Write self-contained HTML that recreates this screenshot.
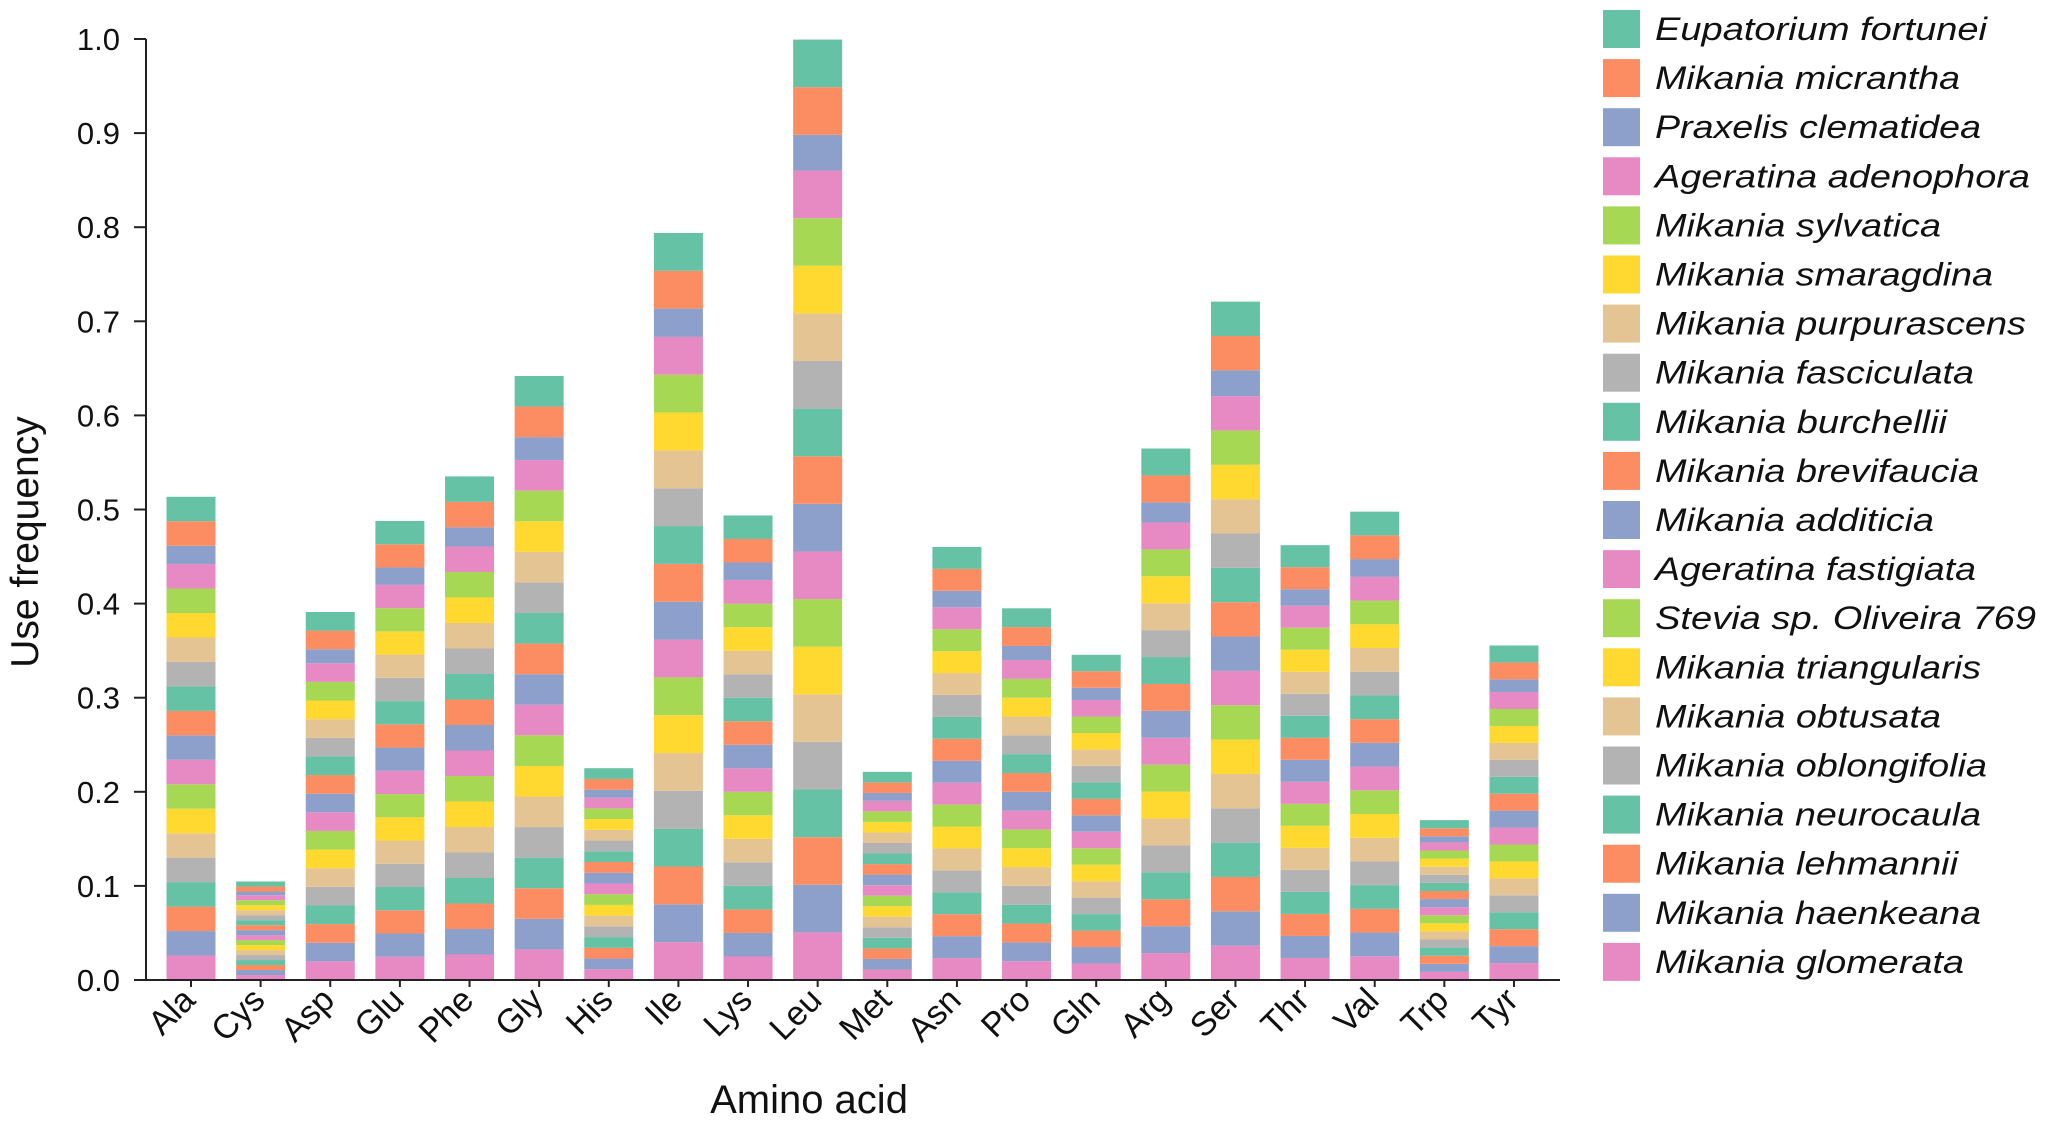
<!DOCTYPE html>
<html><head><meta charset="utf-8"><style>
html,body{margin:0;padding:0;background:#fff;}
svg{display:block;font-family:"Liberation Sans",Arial,sans-serif;}
</style></head><body>
<svg id="chart" width="2047" height="1122" viewBox="0 0 2047 1122" xmlns="http://www.w3.org/2000/svg">
<g id="bars"></g>
<g id="axes"></g>
<g id="legend"></g>
</svg>
<script>
const categories = ["Ala","Cys","Asp","Glu","Phe","Gly","His","Ile","Lys","Leu","Met","Asn","Pro","Gln","Arg","Ser","Thr","Val","Trp","Tyr"];
const yTicks = [0.0,0.1,0.2,0.3,0.4,0.5,0.6,0.7,0.8,0.9,1.0];
const seriesNames = ["Eupatorium fortunei","Mikania micrantha","Praxelis clematidea","Ageratina adenophora","Mikania sylvatica","Mikania smaragdina","Mikania purpurascens","Mikania fasciculata","Mikania burchellii","Mikania brevifaucia","Mikania additicia","Ageratina fastigiata","Stevia sp. Oliveira 769","Mikania triangularis","Mikania obtusata","Mikania oblongifolia","Mikania neurocaula","Mikania lehmannii","Mikania haenkeana","Mikania glomerata"];
const seriesColors = ["#66c2a5","#fc8d62","#8da0cb","#e78ac3","#a6d854","#ffd92f","#e5c494","#b3b3b3","#66c2a5","#fc8d62","#8da0cb","#e78ac3","#a6d854","#ffd92f","#e5c494","#b3b3b3","#66c2a5","#fc8d62","#8da0cb","#e78ac3"];
const typical = [0.026,0.0053,0.0198,0.0247,0.0271,0.0325,0.0114,0.0402,0.025,0.0506,0.0112,0.0233,0.02,0.0175,0.0286,0.0365,0.0234,0.0252,0.0086,0.018];
const praxelis = [0.0195,0.004,0.0149,0.0185,0.0203,0.0244,0.0085,0.0301,0.0187,0.038,0.0084,0.0175,0.015,0.0131,0.0214,0.0274,0.0175,0.0189,0.0065,0.0135];
const values = [typical,typical,praxelis,typical,typical,typical,typical,typical,typical,typical,typical,typical,typical,typical,typical,typical,typical,typical,typical,typical];

const NS="http://www.w3.org/2000/svg";
const X0=191, STEP=69.63, BW=49, Y0=980, Y1=39;
function xPos(i){return X0+i*STEP;}
function yPos(v){return Y0-(Y0-Y1)*v;}
function mk(tag,attrs,parent){const e=document.createElementNS(NS,tag);for(const k in attrs)e.setAttribute(k,attrs[k]);parent.appendChild(e);return e;}
const bars=document.getElementById('bars'), axes=document.getElementById('axes'), legend=document.getElementById('legend');

categories.forEach((c,i)=>{
  let acc=0;
  for(let s=values.length-1;s>=0;s--){
    const v=values[s][i];
    const r=mk('rect',{x:xPos(i)-BW/2,y:yPos(acc+v),width:BW,height:yPos(acc)-yPos(acc+v),fill:seriesColors[s]},bars);
    
    
    acc+=v;
  }
});

let l=mk('line',{x1:146,y1:Y1,x2:146,y2:Y0,stroke:'#222','stroke-width':2},axes);


l=mk('line',{x1:134,y1:Y0,x2:1560,y2:Y0,stroke:'#222','stroke-width':2},axes);



yTicks.forEach(t=>{
  const tk=mk('line',{x1:134,y1:yPos(t),x2:146,y2:yPos(t),stroke:'#222','stroke-width':2},axes);
  
  
  const tx=mk('text',{x:120,y:yPos(t)+11,'text-anchor':'end','font-size':31,fill:'#111'},axes);
  tx.textContent=t.toFixed(1);
  
  
});

categories.forEach((c,i)=>{
  const x=xPos(i);
  const tk=mk('line',{x1:x,y1:Y0,x2:x,y2:Y0+7,stroke:'#222','stroke-width':2},axes);
  
  
  const tx=mk('text',{x:x+6,y:Y0+22,'text-anchor':'end','font-size':34,fill:'#111',transform:`rotate(-45 ${x+6} ${Y0+22})`},axes);
  tx.textContent=c;
  
  
});

let t=mk('text',{x:809,y:1113,'text-anchor':'middle','font-size':40,fill:'#111'},axes);
t.textContent='Amino acid';


t=mk('text',{x:38,y:542,'text-anchor':'middle','font-size':39,fill:'#111',transform:'rotate(-90 38 542)'},axes);
t.textContent='Use frequency';



const legendWidths=[332,305,326,375,286,338,371,319,292,324,279,321,381,326,286,332,326,303,326,309];
seriesNames.forEach((n,s)=>{
  const cy=29+s*49.1;
  const g=mk('g',{},legend);
  
  
  const r=mk('rect',{x:1603,y:cy-19,width:37,height:38,fill:seriesColors[s]},g);
  
  
  const tx=mk('text',{x:1655,y:cy+11,'font-size':32,'font-style':'italic',fill:'#111',textLength:legendWidths[s],lengthAdjust:'spacingAndGlyphs'},g);
  tx.textContent=n;
  
  
});
</script>
</body></html>
